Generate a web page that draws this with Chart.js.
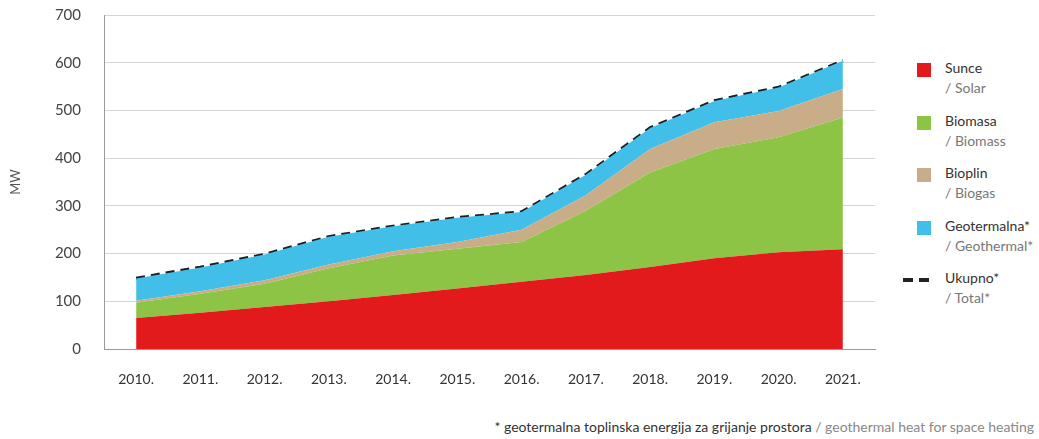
<!DOCTYPE html>
<html>
<head>
<meta charset="utf-8">
<script src="https://cdn.jsdelivr.net/npm/chart.js@4"></script>
<style>
  body { margin: 0; width: 1039px; height: 439px; background: #fff; font-family: Lato, "Open Sans", sans-serif; position: relative; overflow: hidden; }
  #wrap { position: absolute; left: 0; top: -17px; width: 890px; height: 417px; }
  .legend { position: absolute; left: 900px; top: 58px; }
  .item { position: relative; height: 52.5px; }
  .sw { position: absolute; left: 17px; top: 5px; width: 14px; height: 14px; }
  .dash { position: absolute; left: 3px; top: 10px; width: 28px; height: 4px; background: repeating-linear-gradient(90deg, #222 0 10px, transparent 10px 16px); }
  .t1 { position: absolute; left: 45px; top: 1px; font-size: 14px; color: #333; white-space: nowrap; }
  .t2 { position: absolute; left: 45px; top: 21px; font-size: 14px; color: #777; white-space: nowrap; }
  .note { position: absolute; right: 5px; top: 418px; font-size: 14px; color: #333; white-space: nowrap; }
  .note span { color: #888; }
</style>
</head>
<body>
<div id="wrap"><canvas id="chart" width="890" height="417"></canvas></div>
<div class="legend" id="legend"></div>
<div class="note">* geotermalna toplinska energija za grijanje prostora <span>/ geothermal heat for space heating</span></div>
<script>
const years = ["2010.", "2011.", "2012.", "2013.", "2014.", "2015.", "2016.", "2017.", "2018.", "2019.", "2020.", "2021."];
const sunce = [65, 76, 88, 100, 113, 127, 141, 155, 172, 190, 203, 209];
const biomasa = [32, 40, 49, 69, 83, 83, 83, 135, 198, 229, 241, 276];
const bioplin = [4, 5, 7, 8, 9, 14, 26, 32, 49, 56, 55, 60];
const geotermalna = [47, 50, 54, 58, 52, 51, 37, 43, 44, 45, 49, 59];
const ukupno = [148, 171, 198, 235, 257, 275, 287, 365, 463, 520, 548, 604];
const yTicks = [0, 100, 200, 300, 400, 500, 600, 700];

const legendItems = [
  { hr: "Sunce", en: "/ Solar", color: "#e31a1c" },
  { hr: "Biomasa", en: "/ Biomass", color: "#8dc446" },
  { hr: "Bioplin", en: "/ Biogas", color: "#c9ad89" },
  { hr: "Geotermalna*", en: "/ Geothermal*", color: "#41bfe9" },
  { hr: "Ukupno*", en: "/ Total*", dash: true },
];

// legend on the right
const legend = document.getElementById("legend");
legendItems.forEach((it) => {
  const d = document.createElement("div");
  d.className = "item";
  d.innerHTML =
    (it.dash ? `<div class="dash"></div>` : `<div class="sw" style="background:${it.color}"></div>`) +
    `<div class="t1">${it.hr}</div><div class="t2">${it.en}</div>`;
  legend.appendChild(d);
});

function area(label, data, color, fill) {
  return {
    label: label,
    data: data,
    backgroundColor: color,
    borderColor: color,
    borderWidth: 0,
    pointRadius: 0,
    tension: 0,
    fill: fill,
    stack: "areas",
  };
}

const ctx = document.getElementById("chart").getContext("2d");
Chart.defaults.font.family = "Lato, 'Open Sans', sans-serif";
new Chart(ctx, {
  type: "line",
  data: {
    labels: years,
    datasets: [
      area("Sunce", sunce, "#e31a1c", "origin"),
      area("Biomasa", biomasa, "#8dc446", "-1"),
      area("Bioplin", bioplin, "#c9ad89", "-1"),
      area("Geotermalna*", geotermalna, "#41bfe9", "-1"),
      {
        label: "Ukupno*",
        data: ukupno,
        borderColor: "#1e1e1e",
        borderWidth: 3.5,
        borderDash: [9, 6],
        pointRadius: 0,
        tension: 0,
        fill: false,
        stack: "total",
      },
    ],
  },
  options: {
    responsive: false,
    animation: false,
    layout: { padding: { top: 14, right: 15, left: 0, bottom: 0 } },
    plugins: { legend: { display: false }, tooltip: { enabled: false } },
    scales: {
      x: {
        offset: true,
        grid: { display: false, drawTicks: false },
        border: { display: true, color: "#9a9a9a" },
        ticks: { font: { size: 14 }, color: "#333", padding: 22, maxRotation: 0 },
        afterFit: (s) => { s.height = 51; },
      },
      y: {
        stacked: true,
        min: 0,
        max: 700,
        afterBuildTicks: (s) => { s.ticks = yTicks.map((v) => ({ value: v })); },
        grid: { color: "#d4d4d4", drawTicks: false },
        border: { display: true, color: "#9a9a9a" },
        ticks: { font: { size: 15 }, color: "#444", padding: 23 },
        title: { display: true, text: "MW", font: { size: 13 }, color: "#555", padding: { top: 8, bottom: 0 } },
        afterFit: (s) => { s.width = 104; },
      },
    },
  },
});
</script>
</body>
</html>
